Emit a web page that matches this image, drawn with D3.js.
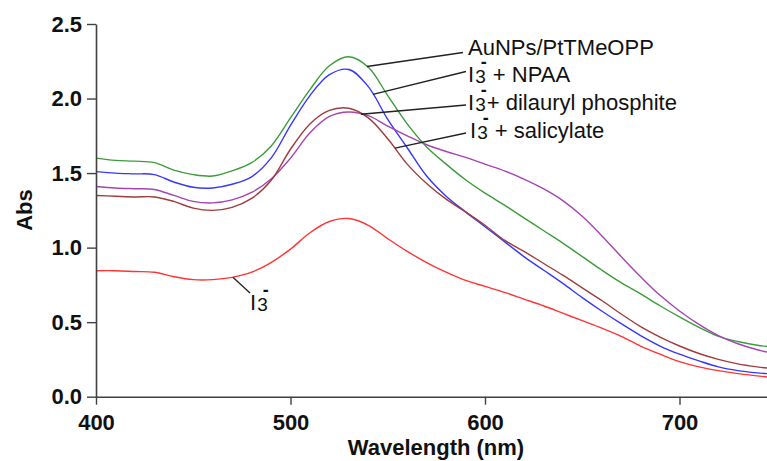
<!DOCTYPE html>
<html>
<head>
<meta charset="utf-8">
<script src="https://cdn.jsdelivr.net/npm/d3@7"></script>
<style>
  body { margin: 0; background: #fff; }
  svg { display: block; font-family: "Liberation Sans", Arial, sans-serif; }
</style>
</head>
<body>
<div class="chart"></div>
<script>
// Wavelength grid (nm)
const wavelengths = [400, 410, 420, 430, 440, 450, 460, 470, 480, 490, 500, 510, 520, 530, 540, 550, 560, 570,
                     580, 590, 600, 610, 620, 630, 640, 650, 660, 670, 680, 690, 700, 710, 720, 730, 740, 750]

// Absorbance
const auNPs = [1.60, 1.585, 1.58, 1.57, 1.52, 1.49, 1.48, 1.515, 1.57, 1.68, 1.87, 2.06, 2.22, 2.28, 2.21, 2.02, 1.83, 1.675,
               1.56, 1.455, 1.365, 1.285, 1.20, 1.115, 1.03, 0.94, 0.85, 0.765, 0.69, 0.61, 0.535, 0.465, 0.405, 0.37, 0.345, 0.33]
const npaa = [1.51, 1.50, 1.495, 1.49, 1.44, 1.405, 1.40, 1.425, 1.475, 1.60, 1.82, 2.02, 2.16, 2.195, 2.08, 1.86, 1.67, 1.48,
              1.345, 1.24, 1.14, 1.04, 0.94, 0.85, 0.76, 0.665, 0.575, 0.49, 0.41, 0.34, 0.285, 0.24, 0.20, 0.175, 0.16, 0.15]
const dilauryl = [1.41, 1.40, 1.395, 1.39, 1.35, 1.31, 1.30, 1.32, 1.37, 1.46, 1.60, 1.77, 1.88, 1.91, 1.885, 1.815, 1.75, 1.69,
                  1.645, 1.605, 1.56, 1.515, 1.46, 1.395, 1.315, 1.21, 1.08, 0.94, 0.805, 0.68, 0.575, 0.485, 0.41, 0.355, 0.315, 0.285]
const salicylate = [1.35, 1.345, 1.34, 1.34, 1.31, 1.265, 1.25, 1.27, 1.33, 1.45, 1.66, 1.83, 1.92, 1.935, 1.87, 1.73, 1.56, 1.43,
                    1.325, 1.24, 1.15, 1.05, 0.975, 0.895, 0.815, 0.73, 0.645, 0.555, 0.47, 0.40, 0.34, 0.29, 0.25, 0.22, 0.20, 0.185]
const i3 = [0.845, 0.845, 0.84, 0.835, 0.805, 0.785, 0.785, 0.80, 0.835, 0.90, 0.99, 1.10, 1.175, 1.195, 1.15, 1.06, 0.975, 0.90,
            0.835, 0.78, 0.74, 0.70, 0.655, 0.61, 0.56, 0.51, 0.46, 0.405, 0.34, 0.285, 0.235, 0.20, 0.175, 0.155, 0.14, 0.125]

// Tick values
const xTicks = [400, 500, 600, 700]
const yTicks = [0, 0.5, 1.0, 1.5, 2.0, 2.5]

// Label anchors: wavelength where each leader line touches its curve
const anchorWl = [539.3, 542.4, 536.2, 553.7, 470.4]

const series = [
    {name: "AuNPs/PtTMeOPP", values: auNPs, color: "#3c9c3c"},
    {name: "NPAA", values: npaa, color: "#3838f8"},
    {name: "dilauryl", values: dilauryl, color: "#a445b0"},
    {name: "salicylate", values: salicylate, color: "#a03c3c"},
    {name: "I3", values: i3, color: "#ff3434"}
]

const width = 767
const height = 461

const svg = d3.select(".chart").append("svg")
    .attr("width", width)
    .attr("height", height)

// Scales
const xScale = d3.scaleLinear()
    .domain([400, 750])
    .range([96, 96 + 350 * 1.945])
const yScale = d3.scaleLinear()
    .domain([0, 2.5])
    .range([396.7, 24])

// Spectra
const line = d3.line()
    .x((d, i) => xScale(wavelengths[i]))
    .y(d => yScale(d))
    .curve(d3.curveCatmullRom.alpha(0.5))

svg.append("g")
    .selectAll("path")
    .data(series)
    .enter()
    .append("path")
        .attr("d", d => line(d.values))
        .attr("fill", "none")
        .attr("stroke", d => d.color)
        .attr("stroke-width", 1.4)

// Axes
const xAxis = d3.axisBottom(xScale)
    .tickValues(xTicks)
    .tickSize(8)
    .tickSizeOuter(0)
    .tickPadding(10)
    .tickFormat(d3.format("d"))
const yAxis = d3.axisLeft(yScale)
    .tickValues(yTicks)
    .tickSize(9)
    .tickSizeOuter(0)
    .tickPadding(5)
    .tickFormat(d3.format(".1f"))

const gx = svg.append("g")
    .attr("transform", `translate(0, ${yScale(0)})`)
    .call(xAxis)
const gy = svg.append("g")
    .attr("transform", `translate(${xScale(400)}, 0)`)
    .call(yAxis)

for (const g of [gx, gy]) {
    g.select(".domain").attr("stroke", "#404040").attr("stroke-width", 1.6)
    g.selectAll(".tick line").attr("stroke", "#404040").attr("stroke-width", 1.4)
    g.selectAll(".tick text")
        .attr("fill", "#111")
        .style("font-size", "22px")
        .style("font-weight", "bold")
        .style("font-family", '"Liberation Sans", Arial, sans-serif')
}

// Axis titles
svg.append("text")
    .attr("x", 436)
    .attr("y", 455)
    .attr("text-anchor", "middle")
    .style("font-size", "22px")
    .style("font-weight", "bold")
    .attr("fill", "#111")
    .text("Wavelength (nm)")

svg.append("text")
    .attr("transform", "translate(32, 210) rotate(-90)")
    .attr("text-anchor", "middle")
    .style("font-size", "22px")
    .style("font-weight", "bold")
    .attr("fill", "#111")
    .text("Abs")

// y value of a series at some wavelength (for the leader lines)
function valueAt(values, wl) {
    const i = d3.bisectRight(wavelengths, wl) - 1
    const t = (wl - wavelengths[i]) / (wavelengths[i + 1] - wavelengths[i])
    return values[i] + t * (values[i + 1] - values[i])
}

// Label text, with I3- written as I, a small 3 and a bar above it
function addLabel(x, y, rest, withIon) {
    const t = svg.append("text")
        .attr("x", x)
        .attr("y", y)
        .attr("fill", "#111")
        .style("font-size", "22px")
    if (!withIon) {
        t.text(rest)
        return
    }
    t.append("tspan").text("I")
    t.append("tspan").style("font-size", "19px").attr("dx", 1).attr("dy", 1).text("3")
    t.append("tspan").style("font-size", "18px").style("font-weight", "bold")
        .attr("dx", -5).attr("dy", -15).text("-")
    if (rest) t.append("tspan").attr("dy", 14).text(rest)
}

// Leader lines end next to their label
const leaderEnds = [[463, 52.5], [466, 71.5], [466, 105], [466, 133], [250, 293]]
const labelPos = [[468, 55], [468, 82], [468, 110], [470, 138], [250, 310]]
const labelText = ["AuNPs/PtTMeOPP", " + NPAA", "+ dilauryl phosphite", " + salicylate", ""]

series.forEach((s, k) => {
    const wl = anchorWl[k]
    svg.append("line")
        .attr("x1", xScale(wl))
        .attr("y1", yScale(valueAt(s.values, wl)))
        .attr("x2", leaderEnds[k][0])
        .attr("y2", leaderEnds[k][1])
        .attr("stroke", "#222")
        .attr("stroke-width", 1.3)
    addLabel(labelPos[k][0], labelPos[k][1], labelText[k], k > 0)
})
</script>
</body>
</html>
